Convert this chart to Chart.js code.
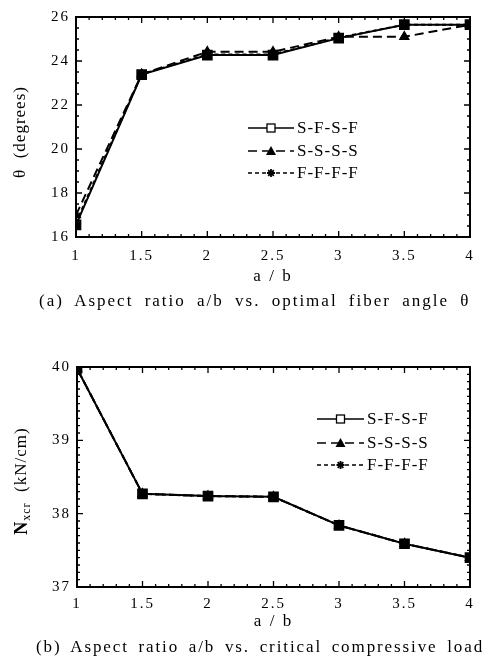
<!DOCTYPE html>
<html><head><meta charset="utf-8">
<script src="https://cdn.jsdelivr.net/npm/chart.js@4.4.1/dist/chart.umd.min.js"></script>
<style>
html,body{margin:0;padding:0;background:#fff;}
#wrap{position:relative;width:493px;height:662px;overflow:hidden;background:#fff;}
canvas{position:absolute;left:0;}
.cap{position:absolute;font-family:"Liberation Serif",serif;font-size:17px;letter-spacing:2px;color:#000;white-space:nowrap;}
</style></head><body>
<div id="wrap">
<canvas id="c1" width="493" height="320" style="top:0"></canvas>
<canvas id="c2" width="493" height="342" style="top:320px"></canvas>
<div class="cap" style="top:291px;left:39px;word-spacing:5px">(a) Aspect ratio a/b vs. optimal fiber angle θ</div>
<div class="cap" style="top:637px;left:36px;word-spacing:3.5px;letter-spacing:1.9px">(b) Aspect ratio a/b vs. critical compressive load</div>
</div>
<script>
// ---- data ----
const aspectRatio = [1, 1.5, 2, 2.5, 3, 3.5, 4];
const seriesNames = ['S-F-S-F', 'S-S-S-S', 'F-F-F-F'];
const angleSFSF = [16.55, 23.38, 24.27, 24.27, 25.04, 25.65, 25.65];
const angleSSSS = [17.0, 23.4, 24.42, 24.42, 25.1, 25.1, 25.65];
const angleFFFF = [16.65, 23.4, 24.3, 24.3, 25.06, 25.65, 25.65];
const loadSFSF = [39.98, 38.27, 38.24, 38.23, 37.84, 37.59, 37.40];
const loadSSSS = [39.98, 38.27, 38.24, 38.23, 37.84, 37.59, 37.40];
const loadFFFF = [39.98, 38.27, 38.24, 38.23, 37.84, 37.59, 37.40];
const xTickMajor = [1, 1.5, 2, 2.5, 3, 3.5, 4];
const angleTickLabels = [16, 18, 20, 22, 24, 26];
const loadTickLabels = [37, 38, 39, 40];

const SERIF = '"Liberation Serif", "DejaVu Serif", serif';

function near(v, list){ return list.find(t => Math.abs(t - v) < 1e-6); }

function pts(ys){ return aspectRatio.map((x,i)=>({x:x, y:ys[i]})); }

const styles = [
  {borderDash:[], pointStyle:'rect', pointRadius:6.5, legendFill:'#fff'},
  {borderDash:[9,5], pointStyle:'triangle', pointRadius:5, legendFill:'#000'},
  {borderDash:[4,3], pointStyle:'star', pointRadius:4, legendFill:'#000'}
];

function makeDatasets(arrs){
  return arrs.map((a,i)=>({
    label: seriesNames[i],
    data: pts(a),
    borderColor:'#000', backgroundColor:'#000',
    borderWidth: 2, borderDash: styles[i].borderDash,
    pointStyle: styles[i].pointStyle, pointRadius: styles[i].pointRadius,
    pointBackgroundColor:'#000', pointBorderColor:'#000', pointBorderWidth: 1.5,
    tension:0, fill:false
  }));
}

function drawMarker(ctx, style, x, y, fill){
  ctx.save();
  ctx.setLineDash([]);
  ctx.lineWidth = 1.3;
  ctx.fillStyle = fill; ctx.strokeStyle = '#000';
  if (style === 'rect'){
    ctx.fillRect(x-4, y-4, 8, 8); ctx.strokeRect(x-4, y-4, 8, 8);
  } else if (style === 'triangle'){
    ctx.beginPath(); ctx.moveTo(x, y-5); ctx.lineTo(x+5, y+4); ctx.lineTo(x-5, y+4); ctx.closePath(); ctx.fill();
  } else {
    ctx.beginPath();
    for (let k=0;k<4;k++){ const an = k*Math.PI/4; ctx.moveTo(x-4*Math.cos(an), y-4*Math.sin(an)); ctx.lineTo(x+4*Math.cos(an), y+4*Math.sin(an)); }
    ctx.lineWidth = 1.8; ctx.stroke();
  }
  ctx.restore();
}

const sciPlugin = {
  id:'sci',
  beforeDraw(chart){ chart.ctx.letterSpacing = '2px'; },
  afterDraw(chart){
    const o = chart.options.plugins.sci;
    const ctx = chart.ctx, a = chart.chartArea;
    ctx.save();
    ctx.letterSpacing = '0px';
    ctx.strokeStyle = '#000'; ctx.lineWidth = 1.3; ctx.setLineDash([]);
    const xs = chart.scales.x, ys = chart.scales.y;
    ctx.beginPath();
    xs.ticks.forEach(t=>{
      const p = xs.getPixelForValue(t.value); const L = t.label ? 6 : 3;
      ctx.moveTo(p, a.bottom); ctx.lineTo(p, a.bottom - L);
      ctx.moveTo(p, a.top); ctx.lineTo(p, a.top + L);
    });
    ys.ticks.forEach(t=>{
      const p = ys.getPixelForValue(t.value); const L = t.label ? 6 : 3;
      ctx.moveTo(a.left, p); ctx.lineTo(a.left + L, p);
      ctx.moveTo(a.right, p); ctx.lineTo(a.right - L, p);
    });
    ctx.stroke();
    ctx.lineWidth = 2;
    ctx.strokeRect(a.left, a.top, a.right - a.left, a.bottom - a.top);

    // legend
    chart.data.datasets.forEach((ds,i)=>{
      const y = o.legY[i];
      ctx.save();
      ctx.lineWidth = 1.6; ctx.setLineDash(ds.borderDash);
      ctx.beginPath(); ctx.moveTo(o.legX0, y); ctx.lineTo(o.legX1, y); ctx.stroke();
      ctx.restore();
      drawMarker(ctx, styles[i].pointStyle, (o.legX0 + o.legX1)/2, y, styles[i].legendFill);
      ctx.save();
      ctx.fillStyle = '#000'; ctx.font = '17px ' + SERIF; ctx.textBaseline = 'middle'; ctx.textAlign = 'left';
      ctx.letterSpacing = '1px';
      ctx.fillText(ds.label, o.legX1 + 3, y + 1);
      ctx.restore();
    });

    // x title
    ctx.fillStyle = '#000';
    ctx.font = '17px ' + SERIF; ctx.textAlign = 'center'; ctx.textBaseline = 'middle';
    ctx.letterSpacing = '2px';
    ctx.fillText('a / b', (a.left + a.right)/2, o.xTitleY);

    // y title
    ctx.save();
    ctx.translate(o.yTitleX, o.yTitleY);
    ctx.rotate(-Math.PI/2);
    ctx.textBaseline = 'middle'; ctx.letterSpacing = '1px';
    const parts = o.yTitle;
    let total = 0;
    parts.forEach(p=>{ ctx.font = p.font; p.w = ctx.measureText(p.t).width; total += p.w; });
    let cx = -total/2;
    ctx.textAlign = 'left';
    parts.forEach(p=>{ ctx.font = p.font; ctx.fillText(p.t, cx, p.dy || 0); cx += p.w; });
    ctx.restore();
    ctx.restore();
  }
};

function tickFont(){ return {family: SERIF, size: 15}; }

function makeChart(id, datasets, cfg){
  return new Chart(document.getElementById(id), {
    type:'line',
    data:{datasets: datasets},
    plugins:[sciPlugin],
    options:{
      responsive:false, animation:false, devicePixelRatio:1,
      layout:{padding:{top:cfg.top, right:23, left:0, bottom:0}},
      plugins:{legend:{display:false}, tooltip:{enabled:false}, sci:cfg.sci},
      scales:{
        x:{type:'linear', min:1, max:4,
          grid:{display:false, drawTicks:false}, border:{display:false},
          ticks:{stepSize:0.1, autoSkip:false, maxRotation:0, minRotation:0, padding:cfg.xPad, color:'#000', font:tickFont(),
            callback:(v)=>{ const m = near(v, xTickMajor); return m === undefined ? '' : String(m); }},
          afterFit(s){ s.height = cfg.xH; }
        },
        y:{type:'linear', min:cfg.ymin, max:cfg.ymax,
          grid:{display:false, drawTicks:false}, border:{display:false},
          ticks:{stepSize:cfg.ystep, autoSkip:false, padding:6, color:'#000', font:tickFont(),
            callback:(v)=>{ const m = near(v, cfg.yLabels); return m === undefined ? '' : String(m); }},
          afterFit(s){ s.width = cfg.yW; }
        }
      }
    }
  });
}

makeChart('c1', makeDatasets([angleSFSF, angleSSSS, angleFFFF]), {
  top:17, xH:83, xPad:10, ymin:16, ymax:26, ystep:0.5, yLabels:angleTickLabels, yW:76,
  sci:{legX0:248, legX1:294, legY:[128,151,173], xTitleY:277, yTitleX:21, yTitleY:132,
    yTitle:[{t:'θ', font:'17px ' + SERIF},{t:'  (degrees)', font:'17px ' + SERIF}]}
});

makeChart('c2', makeDatasets([loadSFSF, loadSSSS, loadFFFF]), {
  top:47, xH:75, xPad:8, ymin:37, ymax:40, ystep:0.1, yLabels:loadTickLabels, yW:77,
  sci:{legX0:317, legX1:364, legY:[99,123,145], xTitleY:302, yTitleX:22, yTitleY:161,
    yTitle:[{t:'N', font:'bold 18px ' + SERIF},{t:'xcr', font:'12px ' + SERIF, dy:5},{t:'  (kN/cm)', font:'17px ' + SERIF}]}
});
</script>
</body></html>
